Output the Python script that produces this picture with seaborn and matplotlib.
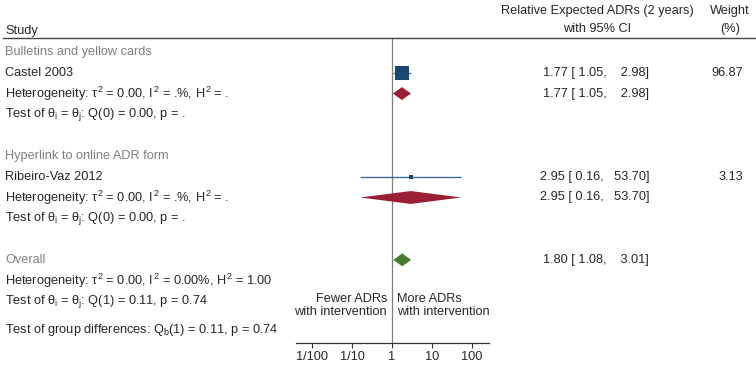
import numpy as np
import matplotlib
matplotlib.use("Agg")
import matplotlib.pyplot as plt
import matplotlib.transforms as mtransforms
import seaborn as sns
import pandas as pd

# ── DATA ───────────────────────────────────────────────
groups = ["Bulletins and yellow cards", "Hyperlink to online ADR form"]
studies = ["Castel 2003", "Ribeiro-Vaz 2012"]
es = [1.77, 2.95]
lo = [1.05, 0.16]
hi = [2.98, 53.70]
weight = [96.87, 3.13]

overall_es, overall_lo, overall_hi = 1.80, 1.08, 3.01

group_het = [r"Heterogeneity: $\tau^2$ = 0.00, $I^2$ = .%, $H^2$ = .",
             r"Heterogeneity: $\tau^2$ = 0.00, $I^2$ = .%, $H^2$ = ."]
group_test = [r"Test of $\theta_i$ = $\theta_j$: Q(0) = 0.00, p = .",
              r"Test of $\theta_i$ = $\theta_j$: Q(0) = 0.00, p = ."]
overall_het = r"Heterogeneity: $\tau^2$ = 0.00, $I^2$ = 0.00%, $H^2$ = 1.00"
overall_test = r"Test of $\theta_i$ = $\theta_j$: Q(1) = 0.11, p = 0.74"
group_diff = r"Test of group differences: Q$_b$(1) = 0.11, p = 0.74"

xticks = [0.01, 0.1, 1, 10, 100]
xticklabels = ["1/100", "1/10", "1", "10", "100"]

# rows (top to bottom)
group_rows = [1, 6]
study_rows = [2, 7]
overall_row = 11

# ── STYLE ──────────────────────────────────────────────
sns.set_theme(style="white")
plt.rcParams["font.family"] = ["Liberation Sans", "DejaVu Sans"]
plt.rcParams["mathtext.fontset"] = "custom"
plt.rcParams["mathtext.rm"] = "Liberation Sans"
plt.rcParams["mathtext.it"] = "Liberation Sans"
plt.rcParams["mathtext.bf"] = "Liberation Sans:bold"
FS = 9.2
NAVY = "#1a476f"
LINE = "#3f6f9f"
MAROON = "#9a1f35"
GREEN = "#4a7a2e"
GRAY = "#7f7f7f"

fig = plt.figure(figsize=(7.56, 3.70), dpi=100)
ax = fig.add_axes([296 / 756, 1 - 343 / 370, 193 / 756, 343 / 370])
ax.set_xscale("log")
ax.set_xlim(10 ** -2.4, 10 ** 2.425)
ax.set_ylim(15, -1.5)

blend = mtransforms.blended_transform_factory(fig.transFigure, ax.transData)
XL = 5 / 756
XES = 649 / 756
XW = 743 / 756

# header
ax.text(XL, 0, "Study", transform=blend, ha="left", va="center", fontsize=FS)
ax.text(597 / 756, -0.95, "Relative Expected ADRs (2 years)", transform=blend,
        ha="center", va="center", fontsize=FS)
ax.text(597 / 756, -0.1, "with 95% CI", transform=blend, ha="center", va="center", fontsize=FS)
ax.text(730 / 756, -0.95, "Weight", transform=blend, ha="center", va="center", fontsize=FS)
ax.text(730 / 756, -0.1, "(%)", transform=blend, ha="center", va="center", fontsize=FS)
ax.plot([0.004, 1], [0.33, 0.33], transform=blend, clip_on=False, color="#444444", lw=1)

# null line
ax.vlines(1, 0.33, 15, color=GRAY, lw=0.9, zorder=1)


def es_text(e, l, h):
    return f"{e:.2f} [{l:5.2f}, {h:6.2f}]".replace("  ", "   ")


def diamond(e, l, h, y, color):
    ax.fill([l, e, h, e], [y, y - 0.31, y, y + 0.31], color=color, lw=0, zorder=3)


# studies
df = pd.DataFrame({"study": studies, "es": es, "lo": lo, "hi": hi,
                   "weight": weight, "row": study_rows})
ax.hlines(df["row"], df["lo"], df["hi"], color=LINE, lw=1, zorder=2)
sizes = 100 * (df["weight"] / df["weight"].max())
sizes = np.maximum(sizes, 10)
sns.scatterplot(data=df, x="es", y="row", marker="s", s=sizes, color=NAVY,
                linewidth=0, ax=ax, zorder=4, legend=False)

for i in range(len(studies)):
    g = group_rows[i]
    r = study_rows[i]
    ax.text(XL, g, groups[i], transform=blend, ha="left", va="center", fontsize=FS, color=GRAY)
    ax.text(XL, r, studies[i], transform=blend, ha="left", va="center", fontsize=FS)
    ax.text(XES, r, es_text(es[i], lo[i], hi[i]), transform=blend, ha="right", va="center", fontsize=FS)
    ax.text(XW, r, f"{weight[i]:.2f}", transform=blend, ha="right", va="center", fontsize=FS)
    # subgroup summary (single study -> same as study)
    diamond(es[i], lo[i], hi[i], r + 1, MAROON)
    ax.text(XL, r + 1, group_het[i], transform=blend, ha="left", va="center", fontsize=FS)
    ax.text(XES, r + 1, es_text(es[i], lo[i], hi[i]), transform=blend, ha="right", va="center", fontsize=FS)
    ax.text(XL, r + 2, group_test[i], transform=blend, ha="left", va="center", fontsize=FS)

# overall
ax.text(XL, overall_row, "Overall", transform=blend, ha="left", va="center", fontsize=FS, color=GRAY)
diamond(overall_es, overall_lo, overall_hi, overall_row, GREEN)
ax.text(XES, overall_row, es_text(overall_es, overall_lo, overall_hi), transform=blend,
        ha="right", va="center", fontsize=FS)
ax.text(XL, overall_row + 1, overall_het, transform=blend, ha="left", va="center", fontsize=FS)
ax.text(XL, overall_row + 2, overall_test, transform=blend, ha="left", va="center", fontsize=FS)
ax.text(XL, 14.37, group_diff, transform=blend, ha="left", va="center", fontsize=FS)

# favours labels
ax.text(0.75, 13.2, "Fewer ADRs\nwith intervention", ha="right", va="center",
        multialignment="right", fontsize=FS, linespacing=1.2)
ax.text(1.3, 13.2, "More ADRs\nwith intervention", ha="left", va="center",
        multialignment="left", fontsize=FS, linespacing=1.2)

# axes
for s in ["top", "right", "left"]:
    ax.spines[s].set_visible(False)
ax.spines["bottom"].set_color("#333333")
ax.spines["bottom"].set_linewidth(0.9)
ax.set_yticks([])
ax.set_xticks(xticks)
ax.set_xticklabels(xticklabels, fontsize=FS)
ax.minorticks_off()
ax.tick_params(axis="x", bottom=True, length=3.5, width=0.8, color="#333333", pad=2)
ax.set_xlabel("")
ax.set_ylabel("")

fig.savefig("out.png", dpi=100)
